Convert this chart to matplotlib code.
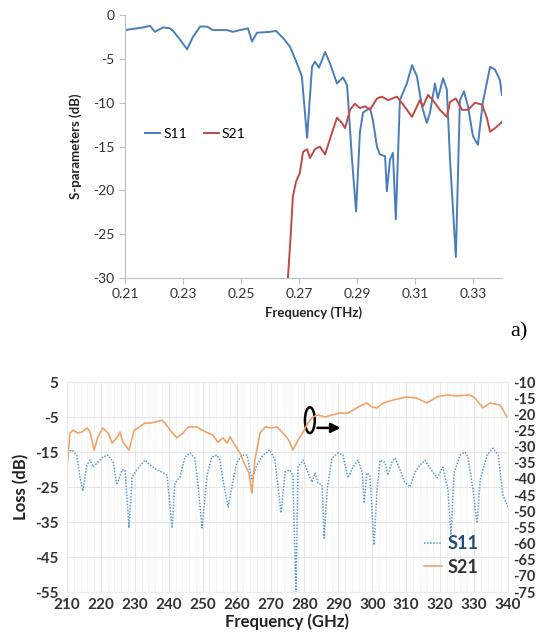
# Two-panel S-parameter figure: a) THz simulation, b) GHz measurement with twin axis.

import matplotlib
matplotlib.use('Agg')
import matplotlib.pyplot as plt
from matplotlib.patches import Ellipse

plt.rcParams['font.family'] = ['Lato', 'DejaVu Sans']
plt.rcParams['axes.unicode_minus'] = False

# ---- panel a) data (THz, dB) ----
thz_s11 = [0.2100, 0.2162, 0.2186, 0.2203, 0.2231, 0.2255, 0.2266, 0.2290, 0.2314,
           0.2334, 0.2359, 0.2383, 0.2403, 0.2452, 0.2472, 0.2497, 0.2524, 0.2538,
           0.2555, 0.2600, 0.2621, 0.2645, 0.2669, 0.2693, 0.2710, 0.2728, 0.2745,
           0.2755, 0.2769, 0.2790, 0.2807, 0.2831, 0.2852, 0.2866, 0.2883, 0.2897,
           0.2910, 0.2921, 0.2945, 0.2955, 0.2969, 0.2979, 0.2997, 0.3003, 0.3014,
           0.3024, 0.3034, 0.3048, 0.3072, 0.3090, 0.3107, 0.3124, 0.3141, 0.3152,
           0.3169, 0.3179, 0.3197, 0.3210, 0.3221, 0.3241, 0.3255, 0.3269, 0.3283,
           0.3300, 0.3317, 0.3334, 0.3359, 0.3376, 0.3393, 0.3400]
db_s11 = [-1.7, -1.4, -1.2, -1.9, -1.4, -1.5, -1.8, -2.8, -3.9,
          -2.5, -1.3, -1.3, -1.7, -1.7, -1.9, -1.7, -1.5, -3.0,
          -2.0, -1.9, -1.8, -2.6, -3.6, -5.5, -7.0, -14.0, -5.9,
          -5.3, -6.0, -4.2, -5.5, -7.8, -7.1, -8.0, -16.5, -22.4,
          -13.4, -11.1, -10.6, -12.0, -15.0, -15.9, -16.1, -20.1, -16.5,
          -15.7, -23.3, -9.7, -7.8, -5.7, -7.0, -10.4, -12.3, -11.1,
          -7.8, -9.5, -7.2, -8.5, -16.5, -27.6, -9.7, -8.7, -10.4,
          -13.8, -14.8, -10.0, -5.9, -6.2, -7.4, -9.1]

thz_s21 = [0.2660, 0.2672, 0.2679, 0.2690, 0.2703, 0.2714, 0.2728, 0.2738, 0.2755,
           0.2772, 0.2790, 0.2814, 0.2831, 0.2848, 0.2859, 0.2876, 0.2893, 0.2910,
           0.2928, 0.2945, 0.2969, 0.2986, 0.3007, 0.3038, 0.3059, 0.3090, 0.3117,
           0.3128, 0.3145, 0.3162, 0.3186, 0.3210, 0.3221, 0.3241, 0.3262, 0.3283,
           0.3307, 0.3331, 0.3348, 0.3359, 0.3376, 0.3400]
db_s21 = [-31.0, -24.8, -20.7, -19.0, -18.0, -15.6, -15.3, -16.3, -15.3,
          -15.0, -15.9, -13.4, -11.7, -12.3, -12.9, -10.8, -10.1, -10.6,
          -10.4, -10.8, -9.5, -9.3, -9.7, -9.3, -10.2, -11.6, -9.7,
          -10.4, -9.1, -9.7, -10.8, -11.6, -9.9, -9.5, -10.8, -10.8,
          -10.0, -10.2, -11.7, -13.3, -12.9, -12.2]

# ---- panel b) data (GHz) ----
ghz_s11 = [210.0, 211.5, 212.9, 213.8, 214.7, 215.9, 216.8, 217.7, 219.1, 220.6,
           222.1, 223.6, 224.7, 226.2, 227.1, 228.3, 229.2, 230.6, 233.0, 234.5,
           236.5, 238.0, 239.5, 241.0, 241.8, 243.3, 244.8, 246.3, 247.7, 248.6,
           249.8, 251.3, 252.7, 254.2, 255.1, 256.0, 257.5, 258.6, 260.1, 261.6,
           263.1, 264.5, 266.0, 267.8, 269.8, 271.3, 273.1, 274.3, 275.7, 276.6,
           277.5, 278.1, 279.6, 281.0, 282.2, 283.1, 284.0, 285.2, 285.8, 286.7,
           288.1, 289.9, 291.4, 292.8, 294.3, 295.8, 297.0, 297.6, 298.4, 299.3,
           300.5, 301.4, 302.3, 303.7, 304.6, 305.8, 306.7, 308.2, 309.6, 311.1,
           312.6, 314.1, 315.5, 317.0, 319.1, 320.8, 322.3, 323.2, 324.1, 325.9,
           327.3, 328.2, 329.7, 330.9, 331.8, 333.8, 335.6, 337.1, 338.5, 340.0]
loss_s11 = [-15.0, -14.4, -15.9, -22.1, -26.1, -18.7, -17.3, -19.3, -17.9, -16.4,
            -15.9, -17.9, -24.4, -20.1, -20.1, -36.7, -22.1, -20.1, -17.3, -18.7,
            -20.1, -20.7, -21.6, -36.7, -23.9, -22.1, -16.4, -15.3, -16.7, -23.9,
            -36.7, -21.6, -16.4, -15.9, -17.3, -23.0, -30.7, -25.0, -17.9, -15.9,
            -15.9, -23.0, -18.7, -15.9, -14.4, -17.3, -32.4, -20.7, -20.1, -21.6,
            -56.0, -19.3, -17.3, -20.7, -23.6, -21.0, -23.9, -24.4, -39.6, -25.9,
            -16.7, -15.3, -15.9, -22.4, -19.3, -17.3, -20.7, -29.6, -21.0, -21.6,
            -41.6, -25.9, -17.3, -17.9, -21.6, -17.9, -16.7, -20.1, -23.6, -25.0,
            -20.7, -18.7, -17.3, -19.6, -22.4, -19.3, -25.9, -38.7, -21.0, -15.9,
            -15.0, -16.4, -25.9, -35.3, -23.0, -15.9, -13.9, -15.9, -27.3, -30.7]

ghz_s21 = [210.0, 210.9, 211.8, 213.2, 214.4, 215.9, 216.8, 218.0, 219.1, 220.6,
           222.1, 223.3, 224.7, 225.6, 226.5, 228.3, 229.8, 230.9, 233.0, 234.5,
           235.9, 238.0, 238.9, 240.4, 242.4, 244.2, 245.7, 248.3, 249.8, 251.6,
           253.0, 254.5, 256.0, 257.2, 258.1, 259.5, 261.0, 262.5, 263.7, 264.5,
           265.4, 266.9, 268.4, 270.4, 271.9, 273.4, 274.9, 275.7, 276.6, 278.1,
           279.6, 281.0, 282.5, 284.0, 286.1, 288.1, 290.5, 292.8, 295.5, 297.0,
           298.4, 299.9, 301.4, 303.2, 306.1, 310.2, 313.2, 316.1, 319.1, 322.0,
           325.0, 328.8, 330.3, 332.6, 334.7, 337.7, 339.7]
loss_s21 = [-36.6, -25.8, -24.9, -25.8, -25.5, -24.2, -25.5, -31.1, -27.0, -24.2,
            -25.8, -28.9, -27.3, -25.5, -28.6, -31.1, -24.9, -24.2, -22.7, -22.7,
            -22.4, -21.8, -22.7, -24.9, -27.3, -25.8, -23.9, -23.9, -24.9, -25.8,
            -26.4, -28.6, -27.3, -28.9, -27.0, -29.5, -32.0, -35.7, -38.2, -44.4,
            -34.1, -25.8, -23.9, -24.2, -23.9, -25.5, -27.3, -28.6, -31.1, -28.0,
            -25.5, -22.7, -20.8, -20.2, -20.8, -20.2, -19.6, -19.6, -18.0, -17.1,
            -16.5, -17.7, -18.0, -16.5, -15.6, -14.6, -15.0, -16.5, -14.6, -14.0,
            -14.3, -14.0, -15.0, -18.0, -16.5, -17.1, -20.8]

fig = plt.figure(figsize=(5.4, 6.41), dpi=100)

# ---------------- panel a) ----------------
ax = fig.add_axes([0.2315, 0.5663, 0.698, 0.410])
ax.plot(thz_s11, db_s11, color='#4A7EBB', lw=1.4, label='S11')
ax.plot(thz_s21, db_s21, color='#BE4B48', lw=1.4, label='S21')
ax.set_xlim(0.21, 0.34)
ax.set_ylim(-30, 0)
ax.set_xticks([0.21, 0.23, 0.25, 0.27, 0.29, 0.31, 0.33])
ax.set_xticklabels(['0.21', '0.23', '0.25', '0.27', '0.29', '0.31', '0.33'])
ax.set_yticks([0, -5, -10, -15, -20, -25, -30])
for s in ['top', 'right']:
    ax.spines[s].set_visible(False)
for s in ['left', 'bottom']:
    ax.spines[s].set_color('#BFBFBF')
ax.tick_params(colors='#BFBFBF', labelcolor='#333333', labelsize=10, length=4, width=0.8)
ax.set_xlabel('Frequency (THz)', fontsize=9.5, fontweight='bold', color='#222222', labelpad=4)
ax.set_ylabel('S-parameters (dB)', fontsize=9.5, fontweight='bold', color='#222222', labelpad=8)
ax.legend(loc='upper left', bbox_to_anchor=(0.02, 0.62), ncol=2, frameon=False,
          fontsize=10, handlelength=1.1, handletextpad=0.2, columnspacing=1.2)
fig.text(0.945, 0.482, 'a)', family=['Liberation Serif', 'DejaVu Serif'], fontsize=16,
         ha='left', va='center')

# ---------------- panel b) ----------------
bx = fig.add_axes([0.124, 0.0764, 0.8167, 0.3276])
bx.set_xlim(210, 340)
bx.set_ylim(-55, 5)
bx.set_xticks(range(210, 341, 10))
bx.set_xticks(range(210, 341, 2), minor=True)
bx.set_yticks([5, -5, -15, -25, -35, -45, -55])
bx.grid(True, which='major', color='#E6E6E6', lw=0.8)
bx.grid(True, which='minor', axis='x', color='#F2F2F2', lw=0.6)
bx.set_axisbelow(True)
l1, = bx.plot(ghz_s11, loss_s11, color='#5B9BD5', lw=1.1, ls=(0, (1, 1)), label='S11')

bx2 = bx.twinx()
bx2.set_ylim(-75, -10)
bx2.set_yticks(range(-10, -76, -5))
l2, = bx2.plot(ghz_s21, loss_s21, color='#F2A36B', lw=1.2, label='S21')

for a in (bx, bx2):
    for s in a.spines.values():
        s.set_color('#EBEBEB')
    a.tick_params(which='both', length=0, labelsize=10.5, labelcolor='#333333')
    for t in a.get_xticklabels() + a.get_yticklabels():
        t.set_fontweight('bold')
bx.tick_params(axis='x', pad=4, labelsize=11)
bx.tick_params(axis='y', pad=6, labelsize=11)
bx2.tick_params(axis='y', pad=4)

bx.set_xlabel('Frequency (GHz)', fontsize=12, fontweight='bold', color='#222222', labelpad=1)
bx.set_ylabel('Loss (dB)', fontsize=12, fontweight='bold', color='#222222', labelpad=4)

# ellipse and arrow pointing at the right-hand axis
bx.add_patch(Ellipse((281.6, -5.9), 2.9, 7.4, fill=False, ec='black', lw=1.8, zorder=5))
bx.annotate('', xy=(291.5, -8.1), xytext=(283.0, -8.1),
            arrowprops=dict(arrowstyle='-|>', color='black', lw=1.8, mutation_scale=14),
            zorder=5)

leg = bx2.legend(handles=[l1, l2], loc='lower right', bbox_to_anchor=(0.97, 0.0),
                 frameon=False, prop={'size': 13, 'weight': 'bold'}, handlelength=1.0,
                 handletextpad=0.3, labelspacing=0.35)
for t in leg.get_texts():
    t.set_color('#1F4E79' if t.get_text() == 'S11' else '#333333')

fig.savefig('out.png', dpi=100)
